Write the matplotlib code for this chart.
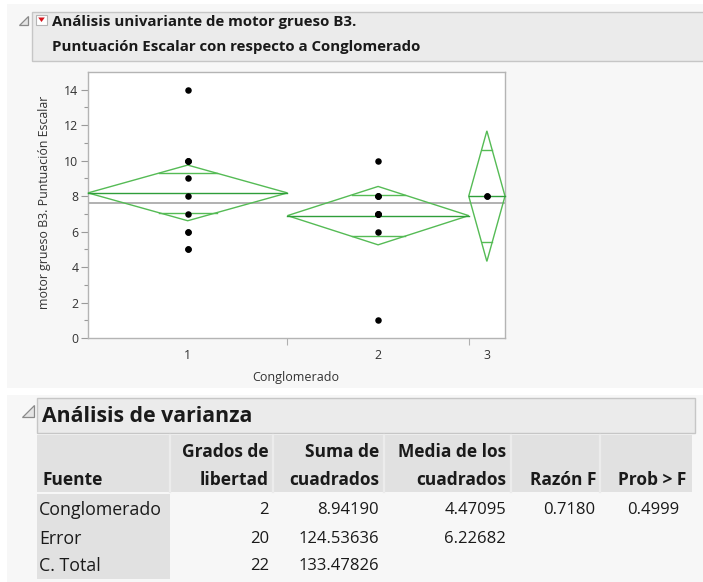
import numpy as np
import matplotlib
matplotlib.use("Agg")
import matplotlib.pyplot as plt
from matplotlib.patches import Rectangle, Polygon

plt.rcParams['font.family'] = ['Open Sans', 'DejaVu Sans']

# ---- data -------------------------------------------------------------
groups = ["1", "2", "3"]
scores_g1 = [14, 10, 10, 10, 9, 8, 7, 6, 6, 5, 5]
scores_g2 = [10, 8, 8, 8, 7, 7, 7, 7, 6, 1]
scores_g3 = [8, 8]

y_label = "motor grueso B3. Puntuación Escalar"
x_label = "Conglomerado"
title_lines = ["Análisis univariante de motor grueso B3.",
               "Puntuación Escalar con respecto a Conglomerado"]
anova_title = "Análisis de varianza"

anova_head1 = ["", "Grados de", "Suma de", "Media de los", "", ""]
anova_head2 = ["Fuente", "libertad", "cuadrados", "cuadrados", "Razón F", "Prob > F"]
anova_source = ["Conglomerado", "Error", "C. Total"]
anova_df = ["2", "20", "22"]
anova_ss = ["8.94190", "124.53636", "133.47826"]
anova_ms = ["4.47095", "6.22682", ""]
anova_f = ["0.7180", "", ""]
anova_p = ["0.4999", "", ""]

# ---- one-way fit ------------------------------------------------------
data = [np.array(scores_g1, float), np.array(scores_g2, float), np.array(scores_g3, float)]
n = np.array([len(d) for d in data])
edges = np.concatenate([[0], np.cumsum(n)])
centers = (edges[:-1] + edges[1:]) / 2
means = np.array([d.mean() for d in data])
grand_mean = np.concatenate(data).mean()
sse = sum(((d - d.mean()) ** 2).sum() for d in data)
mse = sse / (n.sum() - len(data))
T_975_20 = 2.0859634          # Student t 0.975 quantile, 20 df
half = T_975_20 * np.sqrt(mse / n)

# ---- figure & page layout (pixel coordinates) -------------------------
W, H = 703, 582
fig = plt.figure(figsize=(W / 100, H / 100), dpi=100, facecolor="white")
bg = fig.add_axes([0, 0, 1, 1], zorder=0)
bg.set_xlim(0, W)
bg.set_ylim(H, 0)
bg.axis("off")

PAGE = "#f7f7f7"
BOX = "#ebebeb"
BOX_EDGE = "#c6c6c6"
HEAD = "#e1e1e1"
TXT = "#1a1a1a"

bg.add_patch(Rectangle((7, 4), W - 7, 384, fc=PAGE, ec="none"))
bg.add_patch(Rectangle((7, 395), W - 7, H - 395, fc=PAGE, ec="none"))

# outline headers
bg.add_patch(Rectangle((32, 12), W - 31, 49, fc=BOX, ec=BOX_EDGE, lw=1))
bg.add_patch(Rectangle((37, 398), 658, 35, fc=BOX, ec=BOX_EDGE, lw=1))


def disclosure(x, y, s):
    bg.add_patch(Polygon([[x + s, y], [x + s, y + s], [x, y + s]], closed=True,
                         fc="#e4e4e4", ec="#8a8a8a", lw=0.9))


disclosure(19, 16, 9)
disclosure(22, 405, 12)
# red popup menu button
bg.add_patch(Rectangle((36, 15), 11, 10, fc="white", ec="#b5b5b5", lw=0.8))
bg.add_patch(Polygon([[38.2, 17.5], [44.8, 17.5], [41.5, 22]], closed=True,
                     fc="#d6141c", ec="none"))

bg.text(52, 22, title_lines[0], fontsize=10.8, fontweight="bold", color=TXT,
        ha="left", va="center")
bg.text(52, 47, title_lines[1], fontsize=10.8, fontweight="bold", color=TXT,
        ha="left", va="center")
bg.text(42, 416, anova_title, fontsize=15.3, fontweight="bold", color=TXT,
        ha="left", va="center")

# ---- ANOVA table --------------------------------------------------------
bg.add_patch(Rectangle((37, 435), 655, 57, fc=HEAD, ec="none"))
for xs in [170, 273, 384, 511, 600]:
    bg.plot([xs, xs], [435, 492], color="#ececec", lw=1.6)
bg.add_patch(Rectangle((37, 494), 133, 85, fc=HEAD, ec="none"))

col_right = [None, 269, 379, 506, 596, 686]
row_y = [510, 539, 566]
HS = 12.5   # header size
LS = 12.8   # row label size
NS = 12.0   # number size
bg.text(42, 480, anova_head2[0], fontsize=HS, fontweight="bold", color=TXT,
        ha="left", va="center")
for j in range(1, 6):
    if anova_head1[j]:
        bg.text(col_right[j], 452, anova_head1[j], fontsize=HS, fontweight="bold",
                color=TXT, ha="right", va="center")
    bg.text(col_right[j], 480, anova_head2[j], fontsize=HS, fontweight="bold",
            color=TXT, ha="right", va="center")

val_right = [269, 379, 506, 595, 679]
for i in range(3):
    bg.text(39, row_y[i], anova_source[i], fontsize=LS, color=TXT, ha="left", va="center")
    for j, col in enumerate([anova_df, anova_ss, anova_ms, anova_f, anova_p]):
        if col[i]:
            bg.text(val_right[j], row_y[i], col[i], fontsize=NS, color=TXT,
                    ha="right", va="center")

# ---- oneway plot --------------------------------------------------------
L, R, T, B = 88, 505, 72, 338
ax = fig.add_axes([L / W, 1 - B / H, (R - L) / W, (B - T) / H], zorder=1)
ax.set_facecolor("white")
ax.set_xlim(edges[0], edges[-1])
ax.set_ylim(0, 15)

DIAMOND = "#55bb55"
MEANLINE = "#2f9e3a"

ax.axhline(grand_mean, color="#9c9c9c", lw=1.1, zorder=2)
for i in range(len(data)):
    x0, x1, c, m, h = edges[i], edges[i + 1], centers[i], means[i], half[i]
    ax.add_patch(Polygon([[x0, m], [c, m + h], [x1, m], [c, m - h]], closed=True,
                         fill=False, ec=DIAMOND, lw=1.0, zorder=3, clip_on=False))
    ax.plot([x0, x1], [m, m], color=MEANLINE, lw=1.0, zorder=3, clip_on=False)
    hw = (1 - 1 / np.sqrt(2)) * (x1 - x0) / 2
    for s in (1, -1):
        yo = m + s * h / np.sqrt(2)
        ax.plot([c - hw, c + hw], [yo, yo], color=DIAMOND, lw=1.0, zorder=3)
    ax.scatter(np.full(len(data[i]), c), data[i], s=22, color="black", zorder=4,
               linewidths=0)

ax.set_yticks(np.arange(0, 15, 2))
ax.set_yticks(np.arange(1, 14, 2), minor=True)
ax.set_xticks(centers)
ax.set_xticklabels(groups)
ax.set_xticks(edges[1:-1], minor=True)
ax.tick_params(axis="y", which="major", length=5, width=0.8, color="#9a9a9a",
               labelsize=8.8, labelcolor="#333333", pad=2)
ax.tick_params(axis="y", which="minor", length=3, width=0.8, color="#9a9a9a")
ax.tick_params(axis="x", which="major", length=0, labelsize=8.8,
               labelcolor="#333333", pad=8)
ax.tick_params(axis="x", which="minor", length=5, width=0.8, color="#b0b0b0")
for sp in ax.spines.values():
    sp.set_color("#b4b4b4")
    sp.set_linewidth(1.0)

bg.text(45, 202, y_label, fontsize=8.9, color="#333333", rotation=90,
        ha="center", va="center")
bg.text(296, 377, x_label, fontsize=9.0, color="#333333", ha="center", va="center")

fig.savefig("out.png", dpi=100, facecolor="white")
